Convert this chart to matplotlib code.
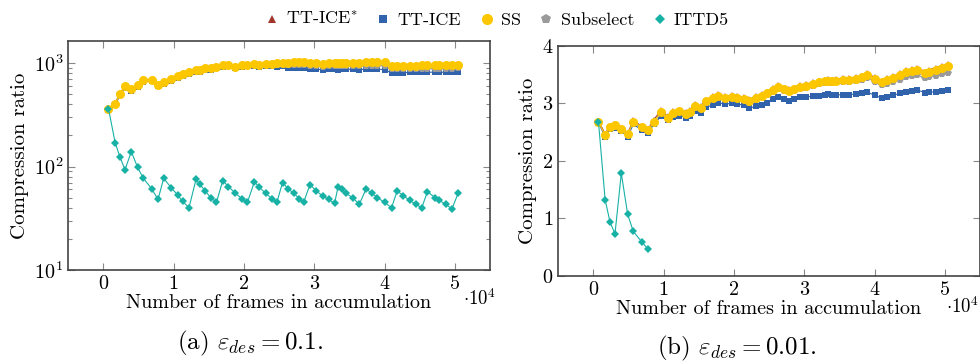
import matplotlib
matplotlib.use("Agg")
import matplotlib.pyplot as plt
from matplotlib.lines import Line2D

plt.rcParams["font.family"] = "serif"
plt.rcParams["font.serif"] = ["cmr10", "DejaVu Serif"]
plt.rcParams["mathtext.fontset"] = "cm"
plt.rcParams["axes.formatter.use_mathtext"] = True

# ----------------------------
# Data (frames in units of 10^4)
# ----------------------------
frames = [0.075, 0.17, 0.24, 0.31, 0.40, 0.49, 0.57, 0.69, 0.78, 0.86,
          0.97, 1.06, 1.13, 1.22, 1.32, 1.37, 1.45, 1.53, 1.61, 1.70,
          1.78, 1.87, 1.97, 2.05, 2.15, 2.22, 2.31, 2.40, 2.47, 2.55,
          2.63, 2.71, 2.79, 2.85, 2.94, 3.03, 3.12, 3.21, 3.29, 3.34,
          3.40, 3.45, 3.55, 3.64, 3.74, 3.82, 3.90, 4.00, 4.10, 4.18,
          4.27, 4.36, 4.45, 4.53, 4.61, 4.72, 4.78, 4.87, 4.96, 5.05]

# (a) eps_des = 0.1
a_ttice_star = [365, 410, 512, 598, 560, 615, 693, 693, 617, 655,
                700, 753, 790, 820, 857, 858, 896, 897, 929, 958,
                973, 928, 968, 973, 984, 968, 984, 994, 1000, 1010,
                1020, 1030, 1035, 1030, 1005, 1000, 990, 1010, 1020, 1000,
                1010, 1015, 1015, 1020, 1030, 1035, 1040, 1030, 945, 945,
                950, 955, 955, 960, 960, 965, 965, 970, 970, 975]
a_ttice = [350, 390, 490, 570, 540, 590, 660, 665, 600, 630,
           670, 720, 755, 785, 820, 820, 855, 860, 885, 915,
           925, 890, 920, 925, 935, 920, 930, 930, 920, 925,
           900, 890, 895, 890, 870, 870, 860, 870, 875, 865,
           870, 870, 870, 865, 870, 870, 875, 860, 805, 805,
           805, 810, 810, 810, 815, 815, 815, 815, 815, 815]
a_ss = [363, 406, 507, 593, 555, 610, 688, 688, 612, 650,
        695, 748, 783, 813, 850, 850, 889, 889, 921, 950,
        965, 920, 960, 965, 975, 960, 975, 985, 990, 1000,
        1010, 1020, 1025, 1020, 995, 990, 980, 1000, 1010, 990,
        1000, 1005, 1005, 1010, 1020, 1025, 1030, 1020, 935, 935,
        940, 945, 945, 950, 950, 955, 955, 960, 960, 965]
a_subselect = [355, 398, 498, 582, 547, 600, 675, 676, 605, 640,
               683, 735, 770, 800, 835, 835, 872, 875, 905, 935,
               945, 905, 940, 945, 955, 940, 955, 960, 960, 965,
               960, 955, 955, 950, 930, 925, 920, 930, 935, 925,
               930, 930, 930, 935, 940, 940, 945, 935, 870, 870,
               872, 875, 875, 878, 878, 880, 880, 882, 882, 885]
a_ittd5 = [363, 170, 123, 93, 139, 98, 77, 61, 48, 77,
           62, 53, 46, 40, 75, 68, 58, 50, 45, 73,
           64, 56, 49, 45, 71, 63, 55, 49, 45, 70,
           61, 55, 49, 45, 67, 58, 52, 48, 44, 64,
           60, 55, 50, 43, 61, 55, 50, 45, 40, 58,
           52, 47, 43, 40, 57, 50, 47, 43, 39, 56]

# (b) eps_des = 0.01
b_ttice_star = [2.69, 2.47, 2.61, 2.64, 2.57, 2.48, 2.70, 2.60, 2.55, 2.71,
                2.88, 2.77, 2.86, 2.89, 2.85, 2.88, 2.98, 2.95, 3.06, 3.12,
                3.16, 3.12, 3.14, 3.12, 3.10, 3.07, 3.12, 3.16, 3.20, 3.26,
                3.31, 3.27, 3.25, 3.27, 3.32, 3.33, 3.36, 3.39, 3.41, 3.42,
                3.41, 3.42, 3.43, 3.43, 3.45, 3.48, 3.52, 3.45, 3.39, 3.43,
                3.47, 3.52, 3.57, 3.59, 3.61, 3.55, 3.58, 3.62, 3.65, 3.68]
b_ttice = [2.66, 2.42, 2.55, 2.57, 2.52, 2.42, 2.63, 2.54, 2.48, 2.63,
           2.78, 2.70, 2.76, 2.78, 2.75, 2.77, 2.86, 2.83, 2.93, 2.97,
           3.01, 2.98, 3.00, 2.98, 2.97, 2.91, 2.95, 2.97, 3.01, 3.07,
           3.10, 3.07, 3.04, 3.07, 3.10, 3.11, 3.12, 3.13, 3.14, 3.16,
           3.14, 3.14, 3.15, 3.15, 3.16, 3.18, 3.19, 3.14, 3.09, 3.10,
           3.14, 3.17, 3.20, 3.21, 3.23, 3.18, 3.19, 3.20, 3.22, 3.23]
b_ss = [2.68, 2.45, 2.59, 2.62, 2.55, 2.46, 2.68, 2.58, 2.53, 2.68,
        2.85, 2.74, 2.83, 2.86, 2.82, 2.85, 2.95, 2.92, 3.03, 3.09,
        3.13, 3.09, 3.11, 3.09, 3.08, 3.04, 3.09, 3.13, 3.17, 3.23,
        3.28, 3.24, 3.22, 3.24, 3.29, 3.30, 3.33, 3.36, 3.38, 3.39,
        3.38, 3.39, 3.40, 3.40, 3.42, 3.45, 3.49, 3.42, 3.36, 3.40,
        3.44, 3.49, 3.54, 3.56, 3.58, 3.52, 3.55, 3.58, 3.61, 3.64]
b_subselect = [2.67, 2.44, 2.58, 2.61, 2.54, 2.45, 2.66, 2.57, 2.52, 2.66,
               2.83, 2.72, 2.81, 2.84, 2.80, 2.83, 2.93, 2.90, 3.01, 3.07,
               3.11, 3.07, 3.09, 3.07, 3.05, 3.01, 3.06, 3.10, 3.14, 3.20,
               3.25, 3.21, 3.19, 3.21, 3.26, 3.27, 3.30, 3.33, 3.35, 3.36,
               3.35, 3.36, 3.37, 3.37, 3.38, 3.40, 3.44, 3.37, 3.31, 3.34,
               3.37, 3.41, 3.45, 3.47, 3.49, 3.43, 3.46, 3.48, 3.50, 3.52]
b_ittd5 = [2.68, 1.32, 0.93, 0.73, 1.78, 1.07, 0.77, 0.59, 0.46]

labels = ["TT-ICE$^{*}$", "TT-ICE", "SS", "Subselect", "ITTD5"]
colors = ["#a0352a", "#3063ab", "#fdc700", "#9a9a9a", "#17b1a6"]
markers = ["^", "s", "o", "p", "D"]
msizes = [4.5, 4.5, 6.5, 5.5, 4]
zorders = [2, 3, 5, 4, 6]

# ----------------------------
# Plot
# ----------------------------
fig = plt.figure(figsize=(9.8, 3.64), dpi=100)
ax1 = fig.add_axes([0.0694, 0.2582, 0.4306, 0.6291])
ax2 = fig.add_axes([0.5694, 0.2426, 0.4306, 0.6319])

series_a = [a_ttice_star, a_ttice, a_ss, a_subselect, a_ittd5]
series_b = [b_ttice_star, b_ttice, b_ss, b_subselect, b_ittd5]

for ax, series in [(ax1, series_a), (ax2, series_b)]:
    for i, ys in enumerate(series):
        ax.plot(frames[:len(ys)], ys, color=colors[i], marker=markers[i],
                markersize=msizes[i], linewidth=0.8, markeredgewidth=0,
                zorder=zorders[i])

ax1.set_yscale("log")
ax1.set_ylim(10, 1630)
ax2.set_ylim(0, 4)
ax2.set_yticks([0, 1, 2, 3, 4])

for ax in (ax1, ax2):
    ax.set_xlim(-0.5, 5.5)
    ax.set_xticks([0, 1, 2, 3, 4, 5])
    ax.tick_params(direction="in", which="both", top=True, right=True,
                   labelsize=14.5, color="#888888", width=0.8)
    ax.tick_params(which="major", length=5)
    ax.tick_params(which="minor", length=3)
    for s in ax.spines.values():
        s.set_color("#444444")
        s.set_linewidth(1.2)
    ax.set_ylabel("Compression ratio", fontsize=15, labelpad=3)
    ax.set_xlabel("Number of frames in accumulation", fontsize=14.5, labelpad=1)

ax1.text(0.935, -0.125, r"$\cdot 10^4$", transform=ax1.transAxes,
         ha="left", va="center", fontsize=13.5)
fig.text(0.999, 0.158, r"$\cdot 10^4$", ha="right", va="center", fontsize=13.5)

fig.text(0.255, 0.04, r"(a) $\varepsilon_{des} = 0.1$.", ha="center", fontsize=18)
fig.text(0.752, 0.025, r"(b) $\varepsilon_{des} = 0.01$.", ha="center", fontsize=18)

handles = [Line2D([], [], color=colors[i], marker=markers[i], linestyle="none",
                  markersize=msizes[i] + 1.5, markeredgewidth=0)
           for i in range(5)]
fig.legend(handles, labels, loc="upper center", bbox_to_anchor=(0.505, 1.015),
           ncol=5, frameon=False, fontsize=13, handletextpad=0.2,
           columnspacing=0.8, handlelength=1.2)

plt.savefig("out.png", dpi=100)
